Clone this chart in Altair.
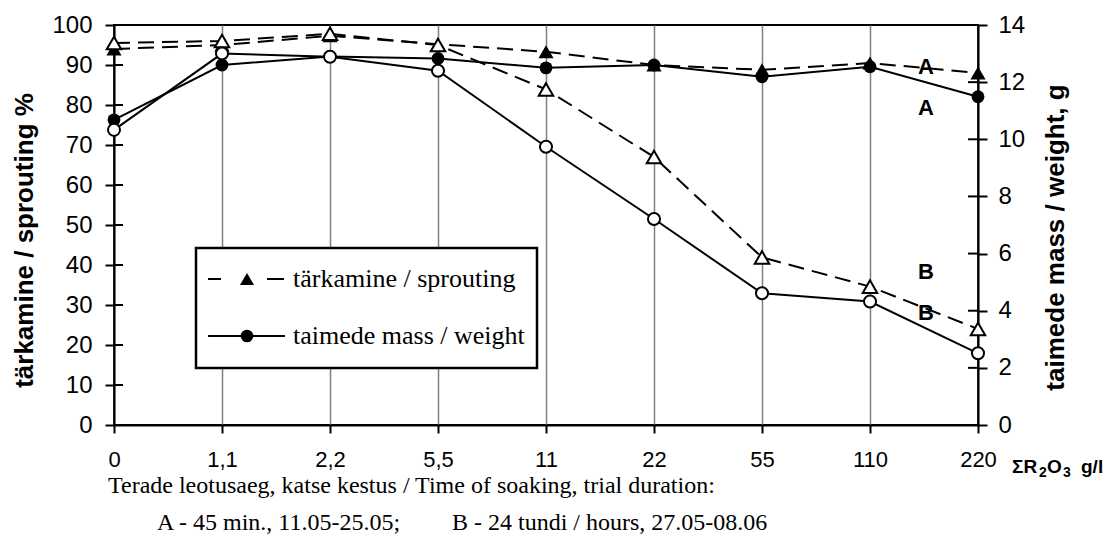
import altair as alt
import pandas as pd

# ---- data ----
cats = ["0", "1,1", "2,2", "5,5", "11", "22", "55", "110", "220"]
sprout_A = [94.0, 95.0, 97.3, 95.2, 93.3, 90.0, 88.8, 90.5, 88.0]
sprout_B = [95.5, 96.0, 97.8, 95.0, 83.9, 67.0, 41.9, 34.6, 24.0]
weight_A = [10.68, 12.6, 12.9, 12.83, 12.5, 12.6, 12.19, 12.54, 11.49]
weight_B = [10.33, 13.0, 12.89, 12.4, 9.74, 7.21, 4.61, 4.32, 2.51]
left_ticks = list(range(0, 101, 10))
right_ticks = list(range(0, 15, 2))

sp = pd.DataFrame(
    [{"conc": c, "trial": "A", "value": v} for c, v in zip(cats, sprout_A)]
    + [{"conc": c, "trial": "B", "value": v} for c, v in zip(cats, sprout_B)]
)
wt = pd.DataFrame(
    [{"conc": c, "trial": "A", "value": v} for c, v in zip(cats, weight_A)]
    + [{"conc": c, "trial": "B", "value": v} for c, v in zip(cats, weight_B)]
)

W, H = 864, 400
SANS = "Liberation Sans, Arial, sans-serif"
SERIF = "Liberation Serif, Times New Roman, serif"

x_enc = alt.X(
    "conc:N", sort=cats, scale=alt.Scale(type="point", padding=0),
    axis=alt.Axis(
        title=None, labelAngle=0, grid=True, gridColor="#808080", gridWidth=1.5,
        domainColor="black", domainWidth=2, tickColor="black", tickWidth=2, tickSize=8,
        labelFont=SANS, labelFontSize=22, labelColor="black", labelPadding=16,
    ),
)

y_sp = alt.Y(
    "value:Q", scale=alt.Scale(domain=[0, 100], nice=False),
    axis=alt.Axis(
        values=left_ticks, orient="left", grid=False,
        domainColor="black", domainWidth=2, tickColor="black", tickWidth=2, tickSize=9,
        labelFont=SANS, labelFontSize=24, labelColor="black", labelPadding=13,
        title="tärkamine / sprouting %", titleFont=SANS, titleFontSize=26,
        titleFontWeight="bold", titleColor="black", titleAngle=270,
        titleX=-82, titleY=215, titleAlign="center", titleBaseline="alphabetic",
    ),
)
y_wt = alt.Y(
    "value:Q", scale=alt.Scale(domain=[0, 14], nice=False),
    axis=alt.Axis(
        values=right_ticks, orient="right", grid=False,
        domainColor="black", domainWidth=2, tickColor="black", tickWidth=2, tickSize=9,
        labelFont=SANS, labelFontSize=24, labelColor="black", labelPadding=11,
        title="taimede mass / weight, g", titleFont=SANS, titleFontSize=26,
        titleFontWeight="bold", titleColor="black", titleAngle=270,
        titleX=85, titleY=212, titleAlign="center", titleBaseline="alphabetic",
    ),
)

# ---- sprouting (left axis) ----
sp_line = alt.Chart(sp).mark_line(color="black", strokeWidth=2, strokeDash=[16, 8]).encode(
    x=x_enc, y=y_sp, detail="trial:N")
sp_A = alt.Chart(sp).transform_filter("datum.trial == 'A'").mark_point(
    shape="triangle-up", filled=True, fill="black", size=230, opacity=1).encode(x=x_enc, y=y_sp)
sp_B = alt.Chart(sp).transform_filter("datum.trial == 'B'").mark_point(
    shape="triangle-up", filled=True, fill="white", stroke="black", strokeWidth=2,
    size=210, opacity=1).encode(x=x_enc, y=y_sp)
sp_tick = alt.Chart(pd.DataFrame({"value": left_ticks})).mark_rule(
    color="black", strokeWidth=2).encode(x=alt.value(0), x2=alt.value(9), y=y_sp)
left = alt.layer(sp_line, sp_A, sp_B, sp_tick)

# ---- weight (right axis) ----
wt_line = alt.Chart(wt).mark_line(color="black", strokeWidth=2).encode(
    x=x_enc, y=y_wt, detail="trial:N")
wt_A = alt.Chart(wt).transform_filter("datum.trial == 'A'").mark_point(
    shape="circle", filled=True, fill="black", size=165, opacity=1).encode(x=x_enc, y=y_wt)
wt_B = alt.Chart(wt).transform_filter("datum.trial == 'B'").mark_point(
    shape="circle", filled=True, fill="white", stroke="black", strokeWidth=2,
    size=145, opacity=1).encode(x=x_enc, y=y_wt)
wt_tick = alt.Chart(pd.DataFrame({"value": right_ticks})).mark_rule(
    color="black", strokeWidth=2).encode(x=alt.value(W - 10), x2=alt.value(W), y=y_wt)
right = alt.layer(wt_line, wt_A, wt_B, wt_tick)

# ---- legend box ----
dummy = alt.Data(values=[{"k": 1}])
box = alt.Chart(dummy).mark_rect(fill="white", stroke="black", strokeWidth=2.5).encode(
    x=alt.value(82), x2=alt.value(423), y=alt.value(223), y2=alt.value(343))
leg1a = alt.Chart(dummy).mark_rule(color="black", strokeWidth=2).encode(
    x=alt.value(94), x2=alt.value(107), y=alt.value(254))
leg1b = alt.Chart(dummy).mark_rule(color="black", strokeWidth=2).encode(
    x=alt.value(153), x2=alt.value(170), y=alt.value(254))
leg1m = alt.Chart(dummy).mark_point(shape="triangle-up", filled=True, fill="black",
                                    size=200, opacity=1).encode(x=alt.value(133), y=alt.value(254))
leg2a = alt.Chart(dummy).mark_rule(color="black", strokeWidth=2).encode(
    x=alt.value(94), x2=alt.value(171), y=alt.value(311))
leg2m = alt.Chart(dummy).mark_point(shape="circle", filled=True, fill="black",
                                    size=160, opacity=1).encode(x=alt.value(133), y=alt.value(311))
leg_text = alt.Chart(pd.DataFrame({"t": ["tärkamine / sprouting", "taimede mass / weight"],
                                   "yy": [254, 311]})).mark_text(
    font=SERIF, fontSize=26, align="left", baseline="middle", color="black").encode(
    x=alt.value(179), y=alt.Y("yy:Q", scale=None), text="t:N")

# ---- annotations ----
ann = alt.Chart(pd.DataFrame({"t": ["A", "A", "B", "B"], "yy": [42, 83, 247, 288]})).mark_text(
    font=SANS, fontSize=22, fontWeight="bold", align="center", baseline="middle",
    color="black").encode(x=alt.value(812), y=alt.Y("yy:Q", scale=None), text="t:N")


def txt(s, x, y, size, font=SANS, weight="bold"):
    return alt.Chart(dummy).mark_text(
        font=font, fontSize=size, fontWeight=weight, align="left",
        baseline="alphabetic", color="black").encode(
        x=alt.value(x), y=alt.value(y), text=alt.value(s))


# x-axis unit label: ΣR2O3 g/l with real subscripts
unit = [
    txt("ΣR", 898, 448, 19),
    txt("2", 925, 452, 14),
    txt("O", 933, 448, 19),
    txt("3", 949, 452, 14),
    txt("g/l", 967, 448, 19),
]

note1 = txt("Terade leotusaeg, katse kestus / Time of soaking, trial duration:",
            -6, 468, 24, SERIF, "normal")
note2 = txt("A - 45 min., 11.05-25.05;", 43, 505, 24, SERIF, "normal")
note3 = txt("B - 24 tundi / hours, 27.05-08.06", 338, 505, 24, SERIF, "normal")

chart = alt.layer(
    left, right, box, leg1a, leg1b, leg1m, leg2a, leg2m, leg_text, ann,
    *unit, note1, note2, note3
).resolve_scale(y="independent").properties(
    width=W, height=H,
    autosize=alt.AutoSizeParams(type="none"),
    padding={"left": 114, "top": 25, "right": 1111 - 114 - W, "bottom": 535 - 25 - H},
    background="white",
).configure_view(stroke="black", strokeWidth=2)

chart.save("out.html", embed_options={"renderer": "svg", "actions": False})
